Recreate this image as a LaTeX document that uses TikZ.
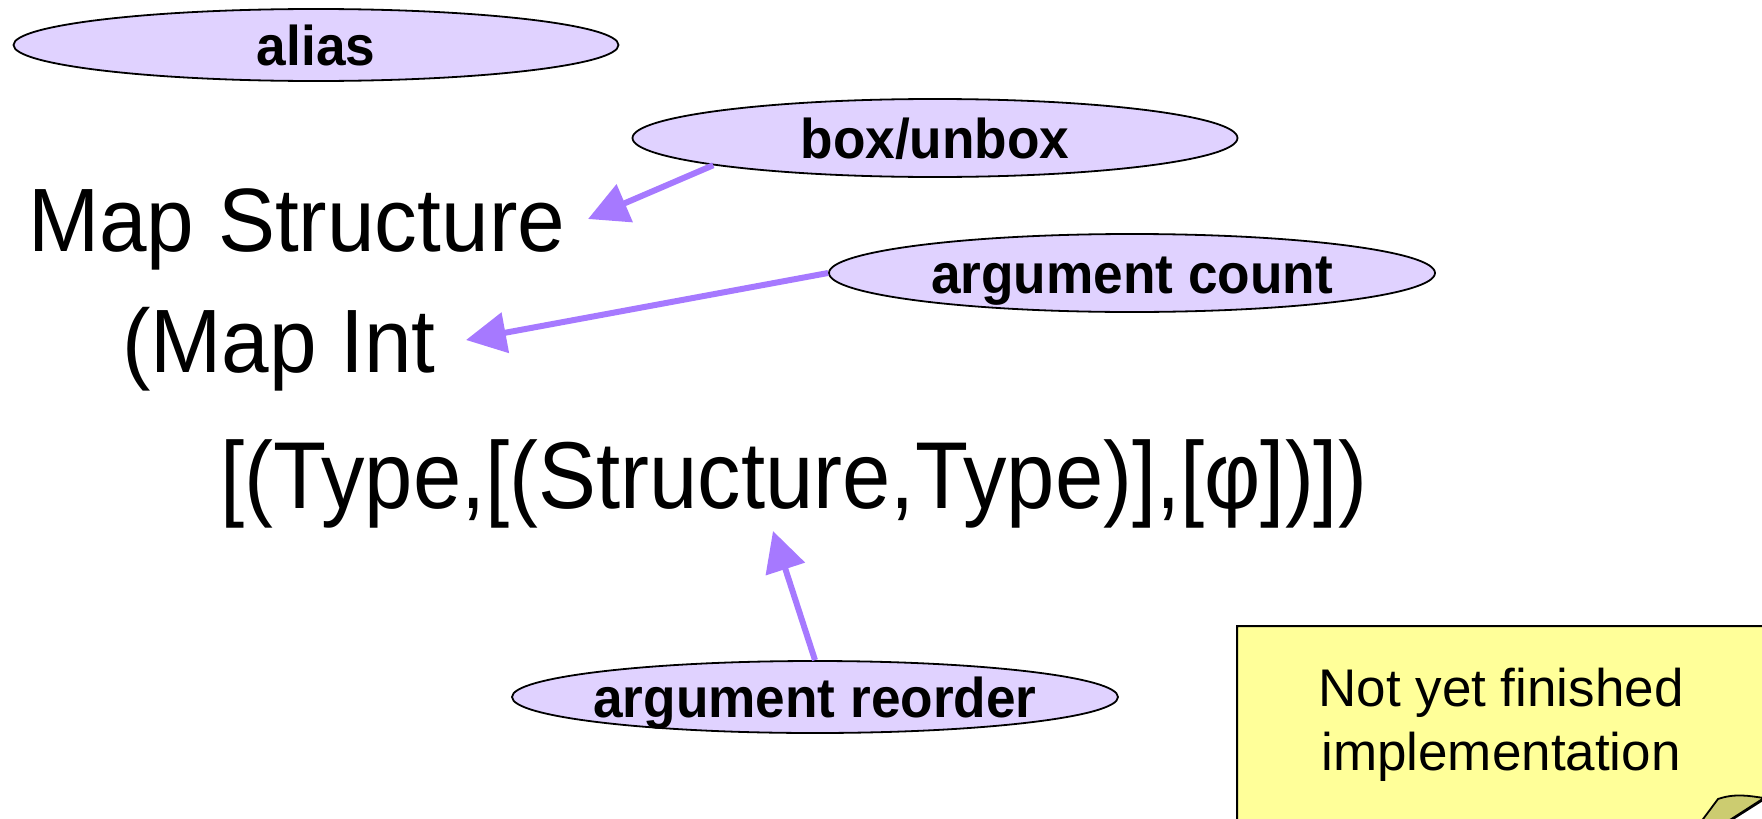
\documentclass[tikz,border=0pt]{standalone}
\usepackage{fontspec}
\setmainfont{Liberation Sans}
\usetikzlibrary{arrows.meta,shapes.geometric}

\definecolor{bubble}{RGB}{224,210,255}
\definecolor{pointer}{RGB}{166,121,255}
\definecolor{notefill}{RGB}{255,255,153}
\definecolor{flapfill}{RGB}{204,204,112}

% narrow the glyphs a little, as the slide font is set
\newcommand\narrow[2]{\scalebox{#1}[1]{#2}}
% bubble caption: zero width, so the bubble keeps its own size
\newcommand\tagtext[1]{\makebox[0pt]{\scalebox{0.95}[1]{#1}}}

\tikzset{
  tag/.style={ellipse, draw=black, line width=1.8pt, fill=bubble,
    inner sep=0pt, text height=40pt, text depth=0pt,
    font=\fontsize{56}{60}\selectfont\bfseries},
  code/.style={anchor=base west, inner sep=0pt,
    font=\fontsize{90}{100}\selectfont},
  notetext/.style={anchor=base, inner sep=0pt,
    font=\fontsize{53}{60}\selectfont},
  pointsto/.style={draw=pointer, line width=6pt,
    -{Triangle[length=40pt,width=40pt]}},
}

\begin{document}
\begin{tikzpicture}[x=1pt,y=-1pt]
  \useasboundingbox (0,0) rectangle (1762,819);

  % the type expression
  \node[code] (l1) at (28,251) {\narrow{0.95}{Map Structure}};
  \node[code] (l2) at (122,372) {\narrow{0.95}{(Map Int}};
  \node[code, font=\fontsize{95}{100}\selectfont] (l3) at (220,508)
    {\narrow{0.914}{[(Type,[(Structure,Type)],[φ])])}};

  % annotation bubbles
  \node[tag, minimum width=605pt, minimum height=72pt] (alias) at (316,45) {\tagtext{alias}};
  \node[tag, minimum width=605pt, minimum height=78pt] (bu) at (935,138) {\tagtext{box/unbox}};
  \node[tag, minimum width=606pt, minimum height=78pt] (ac) at (1132,273) {\tagtext{argument count}};
  \node[tag, minimum width=606pt, minimum height=72pt] (ar) at (815,697) {\tagtext{argument reorder}};

  % where the pointers land
  \coordinate (buTip) at (588,219);
  \coordinate (acTip) at (466,340);
  \coordinate (arTip) at (773,531);

  \draw[pointsto] (bu.187.8) -- (buTip);
  \draw[pointsto] (ac.west) -- (acTip);
  \draw[pointsto] (ar.north) -- (arTip);

  % sticky note with a curled corner
  \path[fill=notefill, draw=black, line width=2pt]
    (1237,880) -- (1237,626) -- (1810,626) -- (1810,770) -- (1640,878) -- cycle;
  \path[fill=flapfill, draw=black, line width=1.8pt]
    (1718,799) .. controls (1735,793) and (1750,796) .. (1764,798)
    -- (1677,854) -- cycle;
  \node[notetext] (n1) at (1501,706) {Not yet finished};
  \node[notetext] (n2) at (1501,770) {implementation};
\end{tikzpicture}
\end{document}
